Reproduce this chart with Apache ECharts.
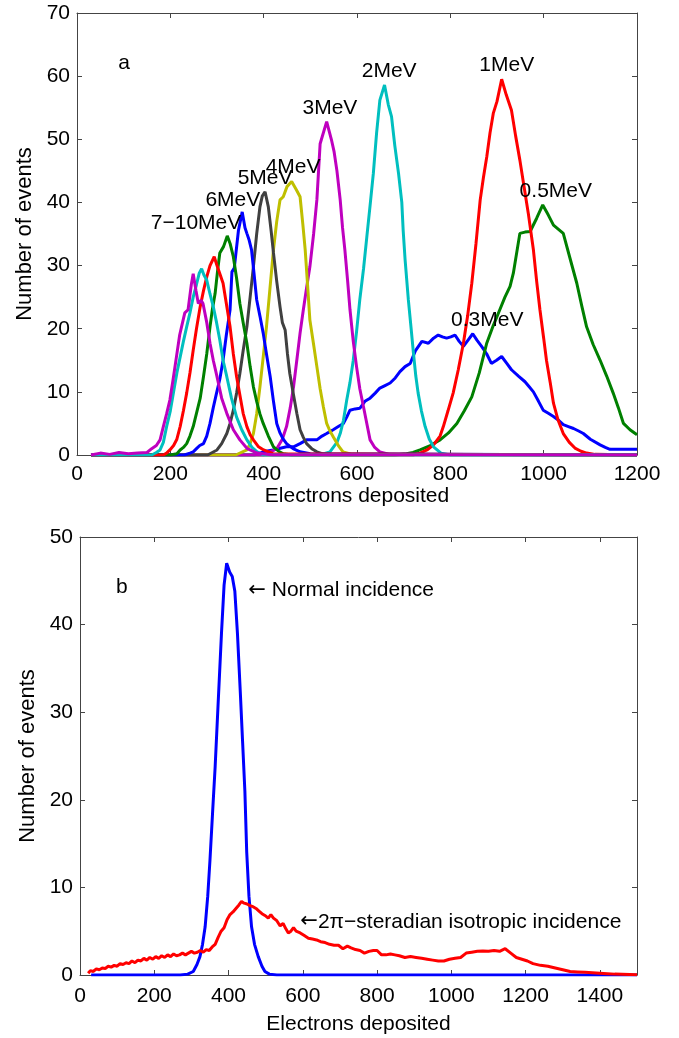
<!DOCTYPE html>
<html>
<head>
<meta charset="utf-8">
<script src="https://cdn.jsdelivr.net/npm/echarts@6/dist/echarts.min.js"></script>
<style>
html,body{margin:0;padding:0;background:#fff;}
#chart{width:679px;height:1038px;}
</style>
</head>
<body>
<div id="chart"></div>
<script>
// ---------- ticks ----------
const aXTicks = [0, 200, 400, 600, 800, 1000, 1200];
const aYTicks = [0, 10, 20, 30, 40, 50, 60, 70];
const bXTicks = [0, 200, 400, 600, 800, 1000, 1200, 1400];
const bYTicks = [0, 10, 20, 30, 40, 50];
const bXMax = 1500;

// ---------- Panel a : series (electrons deposited, number of events) ----------
const x03 = [30,380,400,420,449,464,478,492,503,514,525,535,542,549,560,571,578,585,596,606,617,628,639,649,660,671,682,692,703,714,725,739,753,764,774,783,792,801,810,819,828,838,848,857,867,878,888,899,910,921,931,946,960,969,978,989,999,1010,1021,1032,1042,1053,1064,1075,1085,1100,1121,1132,1142,1170,1200];
const y03 = [0,0,0.5,0.8,1.3,1.3,1.8,2.4,2.4,2.4,3,3.4,3.7,4,4.5,5,6,7.1,7.3,7.4,8.5,9,9.8,10.6,11,11.4,12.2,13.2,14,14.5,16.5,18,17.7,18.5,19,18.7,18.5,18.7,19,18,17.2,18.2,19.2,18.2,17.2,16,14.5,15,15.6,14.5,13.5,12.5,11.6,10.8,10,8.5,7.1,6.6,6.1,5.5,4.8,4.5,4.2,3.8,3.4,2.5,1.6,1.2,0.9,0.9,0.9];

const x05 = [30,680,706,720,735,757,778,796,814,830,846,862,878,892,906,917,928,935,949,960,971,985,998,1010,1021,1042,1057,1071,1082,1092,1106,1121,1135,1149,1160,1171,1185,1200];
const y05 = [0,0,0.2,0.4,0.8,1.5,2.4,3.5,5,7,9.2,13,17.7,20.5,23,25,26.7,28.8,35.1,35.3,35.4,37.5,39.6,38,36.4,35.1,31,27.2,23.5,20.3,17.5,15,12.5,9.8,7.5,5,4,3.2];

const x1 = [30,720,735,750,764,778,785,795,806,817,828,837,846,855,864,871,878,885,892,900,910,920,931,940,949,958,967,978,985,992,1000,1006,1014,1021,1031,1042,1055,1067,1080,1092,1110,1200];
const y1 = [0,0,0.3,0.8,1.6,3,4.5,7,9.8,13.5,17.7,22,27.2,33.5,40.4,44,47.2,51,54.1,56,59.5,57,54.6,50.5,46.7,42.5,38.3,32.5,27.5,23,18.5,15,11.5,8.2,5.5,3.4,2,1.1,0.6,0.3,0.1,0];

const x2 = [30,520,542,557,564,571,578,585,592,599,606,614,621,628,635,642,649,659,667,674,681,689,696,699,703,710,716,721,726,731,738,746,755,764,780,800,1200];
const y2 = [0,0,0.5,2,3.4,5.5,8.7,11.5,15,19.5,24.6,29.5,34.5,39.5,44.6,51,56.2,58.6,55.5,53.6,49,44.6,40,35.5,31,24.6,20,16.1,12.5,9.8,7,4.5,2.5,1.3,0.3,0,0];

const x3 = [30,400,428,440,449,457,464,471,478,485,492,499,507,514,521,535,545,551,557,564,569,574,580,585,592,599,606,614,621,628,638,649,670,1200];
const y3 = [0,0,1,2.5,4.5,7.5,10.8,15,19.3,23,26.5,29.8,35,40.4,49.3,52.8,50,48,45,40.4,36,32.5,27.5,23,18,14,10.5,7.6,5,2.4,1.2,0.5,0.1,0];

const x4 = [30,340,364,371,378,385,392,399,406,413,421,428,435,442,450,460,470,478,484,489,494,499,507,514,521,528,535,542,549,560,570,590,1200];
const y4 = [0,0,0.8,1.8,3.4,6.5,10.8,15.5,20.3,26,32.5,37,40.4,40.9,42.5,43.3,42,40.9,36.5,32.5,27,21.4,17.5,14,10.5,7.6,5,3.8,2.9,1.5,0.5,0.1,0];

const x5 = [30,280,300,310,321,328,335,342,349,356,364,371,378,385,392,397,403,410,416,421,428,435,440,446,451,456,464,471,478,485,492,503,514,530,1200];
const y5 = [0,0,0.8,1.8,3.4,5,7.1,9.8,12.9,16.5,20.3,25,29.8,35,39.3,41,41.7,39.3,35.5,32,27.5,23.5,21,19.8,16,12.9,9.5,6.6,4,2.8,1.8,1,0.5,0.1,0];

const x6 = [30,230,242,249,256,263,271,278,285,292,299,306,313,320,328,332,337,346,354,360,364,369,374,379,385,392,399,406,414,421,428,435,442,449,463,478,500,1200];
const y6 = [0,0,0.3,0.5,1,1.5,1.8,3,5,7.5,9.8,12,15,19,23,29,29.6,35.6,38.5,36,35.1,34,32.5,29,24.6,22,19.3,16,12.4,8.5,5,3.5,2.5,1.8,1,0.5,0.2,0];

const x7 = [30,200,214,221,228,235,242,249,256,264,271,278,285,290,296,301,306,314,322,328,335,342,349,356,364,371,378,385,392,399,410,421,432,442,460,1200];
const y7 = [0,0,0.2,0.8,1.2,1.8,3,4.5,6.6,9,12.4,16,20.3,23,25.6,29,32,33,34.7,33.5,31.4,28,24,21,17.7,14,10.8,8.5,6.5,5,3,1.3,0.6,0.2,0,0];

const x8 = [30,185,192,199,207,214,221,228,235,242,249,256,264,271,278,285,294,300,307,313,320,328,335,342,349,356,364,371,378,389,400,420,1200];
const y8 = [0,0,0.3,0.8,1.5,2.5,4.5,7,9.8,13,16.6,20,23.5,26,28.2,30,31.4,30,28.5,27.2,24,20.3,16,12.4,9.5,6.6,4.5,3.2,2.4,1.3,0.8,0.2,0];

const x9 = [30,160,170,178,185,192,200,207,214,221,228,235,242,249,256,262,267,272,278,285,292,299,306,313,321,331,342,353,364,375,386,400,1200];
const y9 = [0,0,0.4,0.8,2,4.5,7,10,13,15.5,18,20.3,22.5,25,27,28.8,29.5,28.5,27.7,25.5,23.5,21,18.2,15,12.4,9,6,4,2.4,1.2,0.5,0,0];

const x10 = [30,50,70,90,110,130,150,160,170,178,185,192,199,206,213,220,224,231,238,245,249,255,260,266,270,278,285,292,300,310,321,335,349,365,386,420,1200];
const y10 = [0,0.3,0.1,0.4,0.2,0.3,0.4,1,1.5,2.4,4.5,6.5,8.7,12,15.5,19,20.3,22.5,23,27,28.7,26,24,24.5,24,21,17.7,15,12.4,9,6.6,4,2.4,1,0.3,0,0];

const aNames  = ['0.3MeV','0.5MeV','1MeV','2MeV','3MeV','4MeV','5MeV','6MeV','7MeV','8MeV','9MeV','10MeV'];
const aColors = ['#0000FF','#008000','#FF0000','#00BFBF','#BF00BF','#BFBF00','#404040','#0000FF','#008000','#FF0000','#00BFBF','#BF00BF'];
const aXs = [x03,x05,x1,x2,x3,x4,x5,x6,x7,x8,x9,x10];
const aYs = [y03,y05,y1,y2,y3,y4,y5,y6,y7,y8,y9,y10];

// Panel a annotations (text, x, y in data units)
const aLabelText = ['a','7−10MeV','6MeV','5MeV','4MeV','3MeV','2MeV','1MeV','0.5MeV','0.3MeV'];
const aLabelX    = [101, 255, 334, 403, 463, 542, 669, 921, 1026, 879];
const aLabelY    = [62.1, 36.7, 40.4, 43.9, 45.5, 55.0, 60.8, 61.8, 41.8, 21.4];

// ---------- Panel b : series ----------
const xNormal = [30,270,290,305,315,323,330,337,344,350,357,364,372,381,388,395,403,410,417,424,432,438,444,449,455,462,470,480,490,498,510,530,1500];
const yNormal = [0,0,0.1,0.4,1.2,2.1,3.5,5.5,9,13.1,18.5,23.8,31,39,44.5,47,46,45.5,43.8,39,32,26.5,21,14,9,5.5,3.5,2.1,1,0.4,0.1,0,0];

const xIso = [22,28,36,44,52,60,68,76,84,92,100,108,116,124,132,140,148,156,164,172,180,188,196,204,212,220,228,236,244,252,260,268,276,284,292,300,308,316,324,332,340,348,356,364,372,380,388,396,404,412,420,428,435,442,450,458,466,474,482,490,498,507,514,521,530,539,547,554,561,568,575,582,593,604,615,626,637,648,660,672,684,696,708,720,730,742,754,766,778,790,800,812,824,836,848,860,875,890,905,920,935,950,965,980,995,1010,1025,1040,1055,1070,1085,1100,1115,1130,1145,1160,1175,1190,1205,1220,1240,1260,1280,1300,1320,1340,1360,1380,1400,1420,1440,1460,1480,1500];
const yIso = [0.2,0.5,0.4,0.7,0.6,0.8,0.75,1.0,0.9,1.1,1.0,1.3,1.2,1.4,1.3,1.6,1.4,1.7,1.6,1.9,1.7,2.0,1.8,2.1,1.9,2.2,2.0,2.3,2.1,2.4,2.2,2.3,2.5,2.3,2.5,2.7,2.5,2.6,2.8,2.6,2.9,2.8,3.2,3.5,4.3,5.0,5.4,6.3,6.9,7.2,7.6,8.0,8.4,8.2,8.1,7.9,7.8,7.6,7.3,7.0,6.8,6.5,6.9,6.5,6.2,5.6,5.9,5.3,4.8,5.0,5.4,5.0,4.8,4.5,4.2,4.1,4.0,3.8,3.7,3.5,3.4,3.4,3.0,3.3,3.1,2.9,2.8,2.5,2.7,2.8,2.8,2.3,2.3,2.4,2.3,2.2,2.0,2.1,2.0,1.9,1.8,1.7,1.6,1.6,1.8,1.9,2.0,2.5,2.6,2.7,2.75,2.7,2.8,2.7,3.0,2.5,2.0,1.8,1.6,1.3,1.1,1.0,0.8,0.6,0.4,0.35,0.3,0.25,0.2,0.15,0.1,0.08,0.05,0.02];

const bLabelText = ['b','← Normal incidence','←2π−steradian isotropic incidence'];
const bLabelX    = [113, 452, 592];
const bLabelY    = [44.3, 43.9, 6.05];
const bLabelLeft = [false, true, true];

// ---------- build ----------
const FONT = "'Liberation Sans', Arial, Helvetica, sans-serif";
const FS = 21;
const zip = (xs, ys) => xs.map((x, i) => [x, ys[i]]);
const axisLine = {show:true, onZero:false, lineStyle:{color:'#444', width:1}};
const tick = {show:true, inside:true, length:5, lineStyle:{color:'#444'}};
const plain = v => String(v);

function xAxes(gi, ticks, max, name, gap, margin) {
  const min = ticks[0], interval = ticks[1]-ticks[0];
  return [
    {type:'value', gridIndex:gi, min, max, interval, position:'bottom',
     name, nameLocation:'middle', nameGap:gap,
     nameTextStyle:{fontSize:FS, fontFamily:FONT, color:'#000'},
     axisLine, axisTick:tick, splitLine:{show:false},
     axisLabel:{fontSize:FS, fontFamily:FONT, color:'#000', margin, formatter:plain,
       showMaxLabel: max === ticks[ticks.length-1], hideOverlap:false}},
    {type:'value', gridIndex:gi, min, max, interval, position:'top',
     axisLine, axisTick:tick, splitLine:{show:false}, axisLabel:{show:false}}
  ];
}
function yAxes(gi, ticks, name) {
  const min = ticks[0], max = ticks[ticks.length-1], interval = ticks[1]-ticks[0];
  return [
    {type:'value', gridIndex:gi, min, max, interval, position:'left',
     name, nameLocation:'middle', nameGap:41, nameRotate:90,
     nameTextStyle:{fontSize:22, fontFamily:FONT, color:'#000'},
     axisLine, axisTick:tick, splitLine:{show:false},
     axisLabel:{fontSize:FS, fontFamily:FONT, color:'#000', margin:7, formatter:plain}},
    {type:'value', gridIndex:gi, min, max, interval, position:'right',
     axisLine, axisTick:tick, splitLine:{show:false}, axisLabel:{show:false}}
  ];
}

const labelStyle = {show:true, fontSize:FS, fontFamily:FONT, color:'#000',
  textBorderWidth:0, opacity:1,
  formatter: p => p.name.replace('←', '{arr|←}'),
  rich:{arr:{fontFamily:"'DejaVu Sans', sans-serif", fontSize:FS, color:'#000'}}};
const hidden = {color:'rgba(0,0,0,0)', opacity:1};

const series = [];
aNames.forEach((n, i) => {
  series.push({type:'line', name:n, xAxisIndex:0, yAxisIndex:0, data:zip(aXs[i], aYs[i]),
    showSymbol:false, symbol:'none', lineStyle:{color:aColors[i], width:3}, z:2+i});
});
series.push({type:'scatter', xAxisIndex:0, yAxisIndex:0, symbolSize:1, z:30,
  itemStyle:hidden,
  data: aLabelText.map((t, i) => ({name:t, value:[aLabelX[i], aLabelY[i]]})),
  label:Object.assign({position:'inside'}, labelStyle)});

series.push({type:'line', name:'Normal', xAxisIndex:2, yAxisIndex:2, data:zip(xNormal, yNormal),
  showSymbol:false, symbol:'none', lineStyle:{color:'#0000FF', width:3}, z:3});
series.push({type:'line', name:'Isotropic', xAxisIndex:2, yAxisIndex:2, data:zip(xIso, yIso),
  showSymbol:false, symbol:'none', lineStyle:{color:'#FF0000', width:3}, z:4});
series.push({type:'scatter', xAxisIndex:2, yAxisIndex:2, symbolSize:1, z:30,
  itemStyle:hidden,
  data: bLabelText.map((t, i) => ({name:t, value:[bLabelX[i], bLabelY[i]],
    label:{position: bLabelLeft[i] ? 'right' : 'inside', distance:0}})),
  label:labelStyle});

const chart = echarts.init(document.getElementById('chart'), null, {renderer:'canvas'});
chart.setOption({
  animation:false,
  backgroundColor:'#fff',
  grid:[
    {left:77, top:13, width:560, height:442},
    {left:80, top:537, width:557, height:438}
  ],
  xAxis:[...xAxes(0, aXTicks, 1200, 'Electrons deposited', 22, 9),
         ...xAxes(1, bXTicks, bXMax, 'Electrons deposited', 39, 11)],
  yAxis:[...yAxes(0, aYTicks, 'Number of events'), ...yAxes(1, bYTicks, 'Number of events')],
  series
});
</script>
</body>
</html>
